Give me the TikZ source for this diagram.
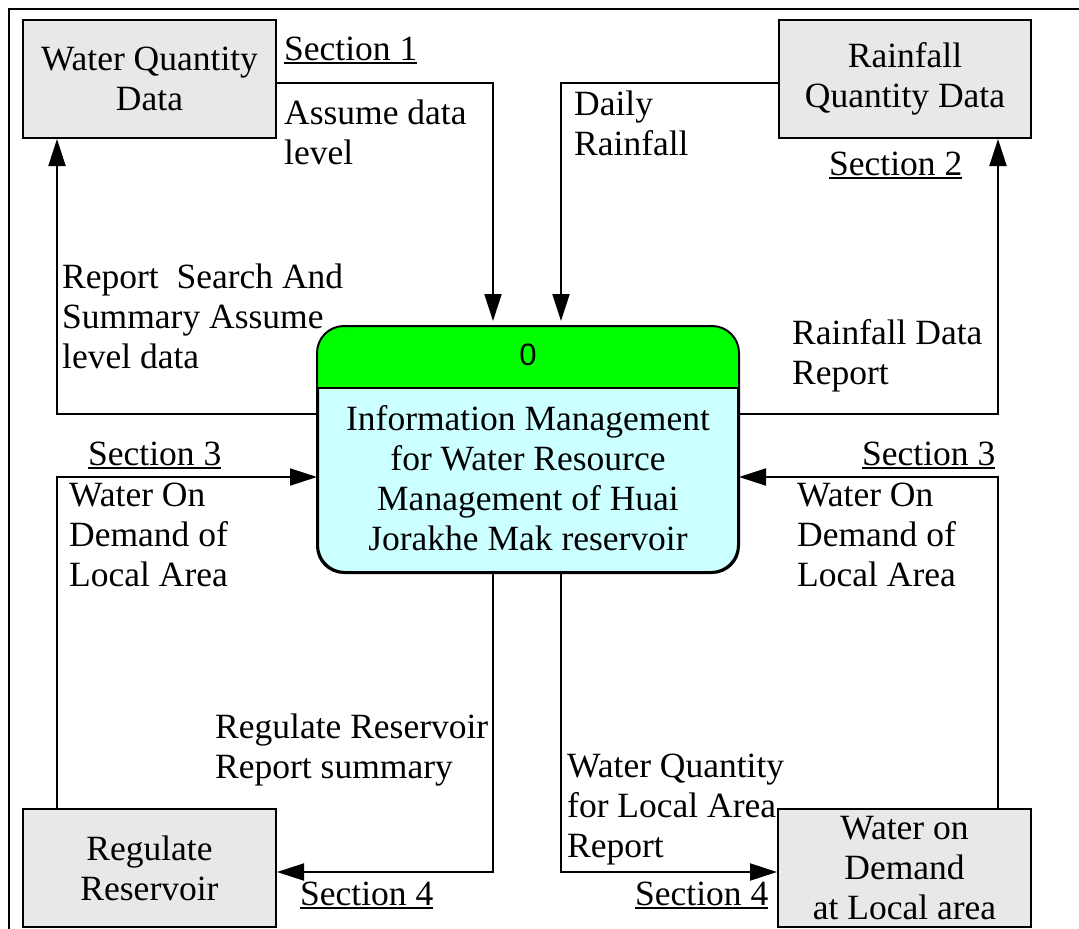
\documentclass[tikz,border=0pt]{standalone}
\usepackage{fontspec}
\setmainfont{Liberation Serif}
\newfontfamily\hdfont{Liberation Sans}
\usetikzlibrary{arrows.meta,calc}
\definecolor{boxgray}{HTML}{E8E8E8}
\definecolor{procgreen}{HTML}{00FF00}
\definecolor{proccyan}{HTML}{CCFFFF}
\newcommand{\secu}[1]{\setbox0\hbox{#1}\rlap{\rule[-4pt]{\wd0}{1.6pt}}\box0}
\begin{document}
\begin{tikzpicture}[x=1pt,y=-1pt,
  every node/.style={font=\fontsize{35.5}{40}\selectfont},
  ext/.style={draw, line width=2pt, fill=boxgray, minimum width=253pt, minimum height=118pt, align=center, inner sep=0pt},
  lbl/.style={anchor=base west, align=left, inner sep=0pt},
  flow/.style={line width=2pt, -{Triangle[length=27pt,width=17pt]}},
  plain/.style={line width=2pt}]
\useasboundingbox (0,0) rectangle (1079,929);
% frame
\draw[line width=2pt] (9,929) -- (9,9) -- (1079,9);
% external entities
\node[ext] (wq) at (149.5,79) {Water Quantity\\Data};
\node[ext, minimum width=252pt] (rain) at (905,79) {Rainfall\\Quantity Data};
\node[ext] (reg) at (149.5,868) {Regulate\\Reservoir};
\node[ext] (wod) at (904.5,868) {Water on\\Demand\\at Local area};
% process
\node[draw, line width=2pt, fill=proccyan, rounded corners=27pt, minimum width=420pt, minimum height=245pt, inner sep=0pt] (proc) at (528,449.5) {};
\begin{scope}
\clip (proc.north west) rectangle ([yshift=-62pt]proc.north east);
\fill[procgreen, rounded corners=27pt] (proc.north west) rectangle (proc.south east);
\end{scope}
\draw[line width=2pt, rounded corners=27pt] (proc.north west) rectangle (proc.south east);
\draw[line width=2pt] ([yshift=-62pt]proc.north west) -- ([yshift=-62pt]proc.north east);
\node[font=\hdfont\fontsize{31}{36}\selectfont, anchor=base] (pid) at (528,365) {0};
\node[anchor=base, align=center, inner sep=0pt] (ptxt) at (528,550) {Information Management\\for Water Resource\\Management of Huai\\Jorakhe Mak reservoir};
% connectors
\draw[flow] ([yshift=-4pt]wq.east) -| ([xshift=-35pt,yshift=5pt]proc.north);
\draw[flow] ([yshift=-4pt]rain.west) -| ([xshift=33pt,yshift=5pt]proc.north);
\draw[flow] ([yshift=35.5pt]proc.west) -| ([xshift=-92.5pt]wq.south);
\draw[flow] ([yshift=35.5pt]proc.east) -| ([xshift=93pt]rain.south);
\draw[flow] ([xshift=-92.5pt]reg.north) |- ([yshift=-27.5pt]proc.west);
\draw[flow] ([xshift=93.5pt]wod.north) |- ([yshift=-27.5pt]proc.east);
\draw[flow] ([xshift=-35pt]proc.south) |- ([yshift=-4pt]reg.east);
\draw[flow] ([xshift=33pt]proc.south) |- ([yshift=-4pt]wod.west);
% labels
\node[lbl] (s1) at (284,60) {\secu{Section 1}};
\node[lbl] (l1) at (284,164) {Assume data\\level};
\node[lbl] (l2) at (574,155) {Daily\\Rainfall};
\node[lbl] (s2) at (829,175) {\secu{Section 2}};
\node[lbl] (l3) at (62,368) {Report\ \ Search And\\Summary Assume\\level data};
\node[lbl] (l4) at (792,384) {Rainfall Data\\Report};
\node[lbl] (s3l) at (88,465) {\secu{Section 3}};
\node[lbl] (s3r) at (862,465) {\secu{Section 3}};
\node[lbl] (l5) at (69,586) {Water On\\Demand of\\Local Area};
\node[lbl] (l6) at (797,586) {Water On\\Demand of\\Local Area};
\node[lbl] (l7) at (215,778) {Regulate Reservoir\\Report summary};
\node[lbl] (l8) at (567,857) {Water Quantity\\for Local Area\\Report};
\node[lbl] (s4l) at (300,905) {\secu{Section 4}};
\node[lbl] (s4r) at (635,905) {\secu{Section 4}};
\end{tikzpicture}
\end{document}
